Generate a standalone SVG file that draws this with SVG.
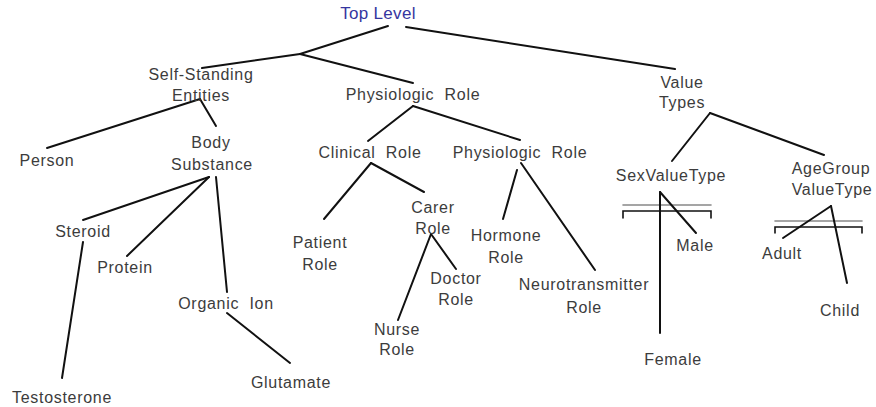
<svg xmlns="http://www.w3.org/2000/svg" width="876" height="407" viewBox="0 0 876 407">
<style>
text{font-family:"Liberation Sans",Arial,sans-serif;font-size:16px;fill:#3c3c3c;text-anchor:middle;letter-spacing:0.7px}
.top{fill:#3535a0;font-size:17px;letter-spacing:0.3px}
.c line,.c polyline{stroke:#111;stroke-width:2;fill:none;stroke-linecap:round}
.c .b{stroke-width:1.6}
.c .g{stroke:#888;stroke-width:1.6}
</style>
<rect width="876" height="407" fill="#fff"/>
<g id="connectors" class="c">
<line x1="388" y1="26" x2="300" y2="54"/>
<line x1="300" y1="54" x2="202" y2="68"/>
<line x1="300" y1="54" x2="413" y2="83"/>
<line x1="406" y1="27" x2="675" y2="69"/>
<line x1="710" y1="113" x2="672" y2="161"/>
<line x1="710" y1="113" x2="824" y2="155"/>
<line x1="200" y1="99" x2="47" y2="148"/>
<line x1="200" y1="99" x2="216" y2="126"/>
<line x1="209" y1="177" x2="83" y2="220"/>
<line x1="209" y1="177" x2="127" y2="256"/>
<line x1="216" y1="177" x2="227" y2="292"/>
<line x1="83" y1="242" x2="62" y2="378"/>
<line x1="227" y1="313" x2="290" y2="363"/>
<line x1="413" y1="106" x2="368" y2="141"/>
<line x1="413" y1="106" x2="520" y2="140"/>
<line x1="371" y1="163" x2="324" y2="219"/>
<line x1="371" y1="163" x2="424" y2="192"/>
<line x1="431" y1="234" x2="398" y2="320"/>
<line x1="431" y1="234" x2="456" y2="269"/>
<line x1="517" y1="170" x2="503" y2="219"/>
<line x1="521" y1="163" x2="595" y2="270"/>
<line class="g" x1="623" y1="205" x2="711" y2="205"/>
<polyline class="b" points="623,218 623,211 711,211 711,218"/>
<line x1="660" y1="192" x2="660" y2="333"/>
<line x1="660" y1="192" x2="696" y2="233"/>
<line class="g" x1="775" y1="221" x2="862" y2="221"/>
<polyline class="b" points="775,233 775,227 862,227 862,233"/>
<line x1="831" y1="206" x2="783" y2="238"/>
<line x1="831" y1="206" x2="847" y2="283"/>
</g>
<g id="top-level"><text class="top" x="378" y="19">Top Level</text></g>
<g id="self-standing-entities"><text x="201" y="80">Self-Standing</text><text x="201" y="101">Entities</text></g>
<g id="physiologic-role-1"><text x="413" y="100" xml:space="preserve">Physiologic  Role</text></g>
<g id="value-types"><text x="682" y="88">Value</text><text x="682" y="108">Types</text></g>
<g id="person"><text x="47" y="166">Person</text></g>
<g id="body-substance"><text x="211" y="148">Body</text><text x="212" y="170">Substance</text></g>
<g id="clinical-role"><text x="370" y="158" xml:space="preserve">Clinical  Role</text></g>
<g id="physiologic-role-2"><text x="520" y="158" xml:space="preserve">Physiologic  Role</text></g>
<g id="sex-value-type"><text x="671" y="181">SexValueType</text></g>
<g id="age-group-value-type"><text x="831" y="174">AgeGroup</text><text x="832" y="195">ValueType</text></g>
<g id="steroid"><text x="83" y="237">Steroid</text></g>
<g id="protein"><text x="125" y="273">Protein</text></g>
<g id="organic-ion"><text x="226" y="309" xml:space="preserve">Organic  Ion</text></g>
<g id="testosterone"><text x="62" y="403">Testosterone</text></g>
<g id="glutamate"><text x="291" y="388">Glutamate</text></g>
<g id="patient-role"><text x="320" y="248">Patient</text><text x="320" y="270">Role</text></g>
<g id="carer-role"><text x="433" y="213">Carer</text><text x="433" y="234">Role</text></g>
<g id="hormone-role"><text x="506" y="241">Hormone</text><text x="506" y="263">Role</text></g>
<g id="doctor-role"><text x="456" y="284">Doctor</text><text x="456" y="305">Role</text></g>
<g id="nurse-role"><text x="397" y="335">Nurse</text><text x="397" y="355">Role</text></g>
<g id="neurotransmitter-role"><text x="584" y="290">Neurotransmitter</text><text x="584" y="313">Role</text></g>
<g id="male"><text x="695" y="251">Male</text></g>
<g id="adult"><text x="782" y="259">Adult</text></g>
<g id="child"><text x="840" y="316">Child</text></g>
<g id="female"><text x="673" y="365">Female</text></g>
</svg>
